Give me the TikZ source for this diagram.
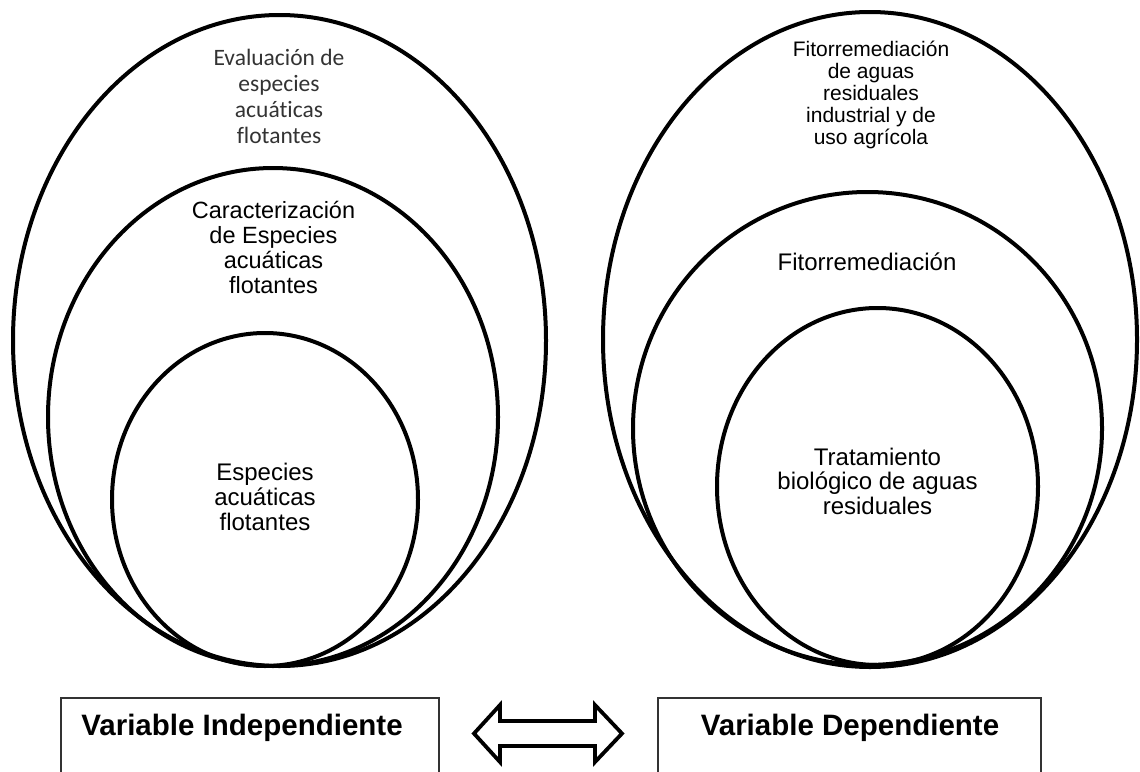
\documentclass[tikz,border=0pt]{standalone}
\usepackage{fontspec}
\setmainfont{Liberation Sans}
\newfontfamily\carl[Ligatures={NoCommon,NoContextual}]{Carlito}
\begin{document}
\begin{tikzpicture}[x=1pt,y=-1pt,
  ring/.style={line width=4pt,draw=black},
  lbl/.style={anchor=base,inner sep=0pt,align=center},
  boxline/.style={line width=1.4pt,draw=black!80},
  varlbl/.style={anchor=base,inner sep=0pt,font=\bfseries\fontsize{29.5}{32}\selectfont}]
\useasboundingbox (0,0) rectangle (1140,771);
% left group
\draw[ring] (279.5,340.5) ellipse [x radius=266.5,y radius=325.5];
\draw[ring] (273,417) ellipse [x radius=225,y radius=249];
\draw[ring] (265,499.5) ellipse [x radius=153,y radius=166.5];
% right group
\draw[ring] (870,339.5) ellipse [x radius=267,y radius=327.5];
\draw[ring] (867.5,428.5) ellipse [x radius=234.5,y radius=236.5];
\draw[ring] (877.5,486.5) ellipse [x radius=160.5,y radius=178.5];
% labels (anchor base = baseline of last line)
\node[lbl,text=black!80,font=\carl\fontsize{23.5}{26}\selectfont] (t1) at (279,143)
  {Evaluación de\\especies\\acuáticas\\flotantes};
\node[lbl,font=\fontsize{23.5}{24.7}\selectfont] (t2) at (273.5,293)
  {Caracterización\\de Especies\\acuáticas\\flotantes};
\node[lbl,font=\fontsize{24}{25}\selectfont] (t3) at (265,530)
  {Especies\\acuáticas\\flotantes};
\node[lbl,font=\fontsize{21}{21.8}\selectfont] (t4) at (871,144)
  {Fitorremediación\\de aguas\\residuales\\industrial y de\\uso agrícola};
\node[lbl,font=\fontsize{24}{25}\selectfont] (t5) at (867,270)
  {Fitorremediación};
\node[lbl,font=\fontsize{24}{24.5}\selectfont] (t6) at (877.5,514)
  {Tratamiento\\biológico de aguas\\residuales};
% boxes
\draw[boxline] (61,790) -- (61,698) -- (439,698) -- (439,790);
\draw[boxline] (658,790) -- (658,698) -- (1041,698) -- (1041,790);
\node[varlbl] (vi) at (242,735) {Variable Independiente};
\node[varlbl] (vd) at (850,735) {Variable Dependiente};
% double arrow
\draw[line width=3.8pt,line join=miter,fill=white]
  (474,733.5) -- (500,705) -- (500,721) -- (595,721) -- (595,705) -- (622,733.5)
  -- (595,762) -- (595,746) -- (500,746) -- (500,762) -- cycle;
\end{tikzpicture}
\end{document}
